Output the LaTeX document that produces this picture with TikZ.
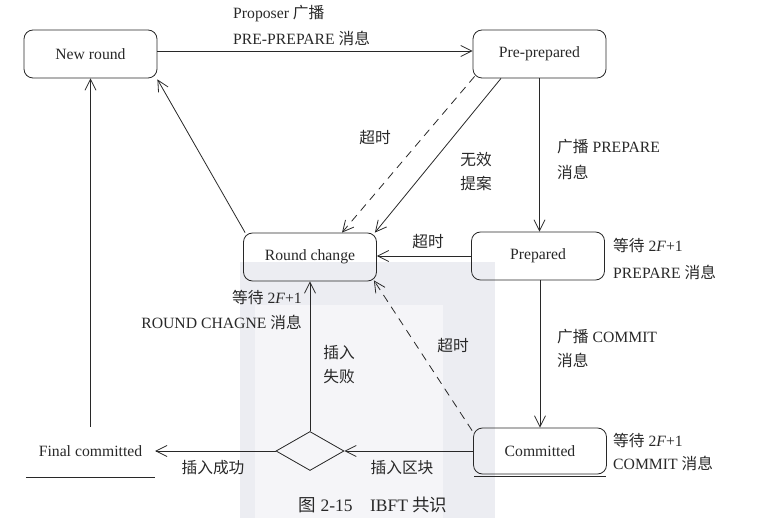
\documentclass[tikz,border=0pt]{standalone}
\usepackage{fontspec}
\setmainfont{Liberation Serif}
\newfontfamily\cjk{Noto Sans CJK SC}
\usetikzlibrary{arrows.meta,shapes.geometric}
\definecolor{wmA}{RGB}{236,237,242}
\definecolor{wmB}{RGB}{245,245,248}
\definecolor{ink}{RGB}{40,40,40}
\begin{document}
\begin{tikzpicture}[x=1pt,y=-1pt,
  every node/.style={font=\fontsize{15.7}{19}\selectfont, text=ink},
  sbox/.style={draw=ink, line width=0.8pt, rounded corners=9pt, minimum width=133pt, minimum height=48pt, inner sep=0pt},
  arr/.style={draw=ink, line width=0.8pt, -{Straight Barb[length=11pt,width=11pt,line width=0.8pt]}},
  dasharr/.style={arr, dash pattern=on 8pt off 6pt},
  lbl/.style={inner sep=0pt},
]
\useasboundingbox (0,0) rectangle (765,518);
% watermark
\fill[wmA] (240,262) rectangle (495,518);
\fill[wmB] (255,305) rectangle (443,518);

% states
\node[sbox] (nr) at (90.5,54) {New round};
\node[sbox] (pp) at (539.5,54) {Pre-prepared};
\node[sbox] (rc) at (310,257) {Round change};
\node[sbox] (pr) at (538,256) {Prepared};
\node[sbox, minimum height=46pt] (cm) at (540,451) {Committed};
\node[minimum width=129pt, minimum height=48pt, inner sep=0pt] (fc) at (90.5,451) {Final committed};
\node[draw=ink, line width=0.8pt, diamond, minimum width=68pt, minimum height=39pt, inner sep=0pt] (dm) at (310,451) {};

\coordinate (y51) at (0,51);

% connectors
\draw[arr] (nr.east |- y51) -- (pp.west |- y51);
\draw[arr] (pp.south) -- (pp.south |- pr.north);
\draw[arr] (cm.north |- pr.south) -- (cm.north);
\draw[arr] (pr.west) -- (rc.east |- pr.west);
\draw[dasharr] ([xshift=2pt,yshift=2pt]pp.south west) -- ([xshift=32pt]rc.north);
\draw[arr] ([xshift=-38.5pt]pp.south) -- ([xshift=-2pt]rc.north east);
\draw[arr] ([xshift=2pt]rc.north west) -- ([yshift=-1pt]nr.south east);
\draw[dasharr] ([xshift=-1pt,yshift=-3pt]cm.north west) -- ([xshift=-3pt,yshift=1pt]rc.south east);
\draw[arr] (cm.west) -- (dm.east);
\draw[arr] (dm.north) -- (rc.south);
\draw[arr] (dm.west) -- (fc.east);
\draw[arr] (fc.north) -- (nr.south);
\draw[draw=ink, line width=0.8pt] ([yshift=-2pt]fc.south west) -- ([yshift=-2pt]fc.south east);
\draw[draw=ink, line width=0.8pt] ([xshift=1pt,yshift=-1.5pt]cm.south west) -- ([xshift=-1pt,yshift=-1.5pt]cm.south east);

% labels
\node[lbl, anchor=west] (l1a) at (233,14) {Proposer {\cjk 广播}};
\node[lbl, anchor=west] (l1b) at (233,38) {PRE-PREPARE {\cjk 消息}};
\node[lbl] (l2) at (375,138) {\cjk 超时};
\node[lbl] (l3a) at (476,160) {\cjk 无效};
\node[lbl] (l3b) at (476,183) {\cjk 提案};
\node[lbl, anchor=west] (l4a) at (557,147) {{\cjk 广播} PREPARE};
\node[lbl, anchor=west] (l4b) at (557,172) {\cjk 消息};
\node[lbl] (l5) at (428,242) {\cjk 超时};
\node[lbl, anchor=west] (l6a) at (613,245) {{\cjk 等待} 2\textit{F}+1};
\node[lbl, anchor=west] (l6b) at (613,272) {PREPARE {\cjk 消息}};
\node[lbl, anchor=west] (l7a) at (557,337) {{\cjk 广播} COMMIT};
\node[lbl, anchor=west] (l7b) at (557,360) {\cjk 消息};
\node[lbl] (l8) at (453,346) {\cjk 超时};
\node[lbl, anchor=east] (l9a) at (302,297) {{\cjk 等待} 2\textit{F}+1};
\node[lbl, anchor=east] (l9b) at (302,322) {ROUND CHAGNE {\cjk 消息}};
\node[lbl] (l10a) at (339,353) {\cjk 插入};
\node[lbl] (l10b) at (339,377) {\cjk 失败};
\node[lbl] (l11) at (402,468) {\cjk 插入区块};
\node[lbl] (l12) at (213,468) {\cjk 插入成功};
\node[lbl, anchor=west] (l13a) at (613,440) {{\cjk 等待} 2\textit{F}+1};
\node[lbl, anchor=west] (l13b) at (613,463) {COMMIT {\cjk 消息}};
\node[lbl, font=\fontsize{17.5}{20}\selectfont] (cap) at (373,505) {{\cjk 图} 2-15\hspace{1em}IBFT {\cjk 共识}};
\end{tikzpicture}
\end{document}
